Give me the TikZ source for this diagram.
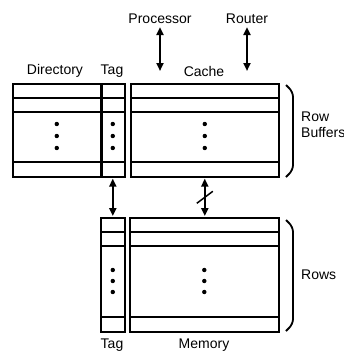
\documentclass[tikz,border=0pt]{standalone}
\usepackage{fontspec}
\setmainfont{Liberation Sans}
\usetikzlibrary{arrows.meta,calc}

\tikzset{
  blk/.style={draw,line width=1.6pt,inner sep=0pt,anchor=north west},
  lbl/.style={font=\fontsize{14}{16}\selectfont,inner sep=2pt},
  link/.style={<->,line width=2.2pt,shorten <=1pt,shorten >=1pt},
}

\begin{document}
\begin{tikzpicture}[>={Triangle[length=8pt,width=7pt]},x=1pt,y=-1pt]
	\useasboundingbox (0,0) rectangle (344,351);
	% row buffers
	\node[blk,minimum width=88pt,minimum height=93pt] (dir) at (12,83) {};
	\node[blk,minimum width=24pt,minimum height=93pt] (tagA) at (100,83) {};
	\node[blk,minimum width=148pt,minimum height=93pt] (cache) at (130,83) {};
	\foreach \b in {dir,tagA,cache}{
		\foreach \y in {98,112,162}
			\draw[line width=1.4pt] (\b.west |- 0,\y) -- (\b.east |- 0,\y);
		\foreach \y in {124,136,148}
			\fill (\b.center |- 0,\y) circle (2.2pt);
	}
	\draw[line width=3.5pt] (dir.north east) -- (dir.south east);
	% memory rows
	\node[blk,minimum width=24pt,minimum height=114pt] (tagB) at (100,217) {};
	\node[blk,minimum width=149pt,minimum height=114pt] (mem) at (129,217) {};
	\foreach \b in {tagB,mem}{
		\foreach \y in {232,246,317}
			\draw[line width=1.4pt] (\b.west |- 0,\y) -- (\b.east |- 0,\y);
		\foreach \y in {270,281,292}
			\fill (\b.center |- 0,\y) circle (2.2pt);
	}
	% labels
	\node[lbl] (dirlbl) at (55,71) {Directory};
	\node[lbl] (taglblA) at (112,71) {Tag};
	\node[lbl] (cachelbl) at (204,71) {Cache};
	\node[lbl] (taglblB) at (112,345) {Tag};
	\node[lbl] (memlbl) at (204,345) {Memory};
	\node[lbl] (proc) at (160,19) {Processor};
	\node[lbl] (rtr) at (247,19) {Router};
	\node[lbl,align=left,anchor=west] (rbuf) at (299,125) {Row\\Buffers};
	\node[lbl,anchor=west] (rows) at (299,275) {Rows};
	% ports
	\coordinate (procend) at (160,72);
	\coordinate (rtrend) at (247,72);
	\draw[link] (proc.south) -- (procend);
	\draw[link] (rtr.south) -- (rtrend);
	\draw[link] (tagA.south) -- (tagB.north);
	\draw[link] (cache.south) -- (cache.south |- mem.north);
	\draw[line width=1.5pt] ($(cache.south)!0.5!(cache.south |- mem.north)+(-8,6)$) -- ++(16,-12);
	% braces
	\draw[line width=1.8pt,rounded corners=5pt] (286,85) -- (293,92) -- (293,170) -- (286,177);
	\draw[line width=1.8pt,rounded corners=5pt] (286,220) -- (293,227) -- (293,324) -- (286,331);
\end{tikzpicture}
\end{document}
